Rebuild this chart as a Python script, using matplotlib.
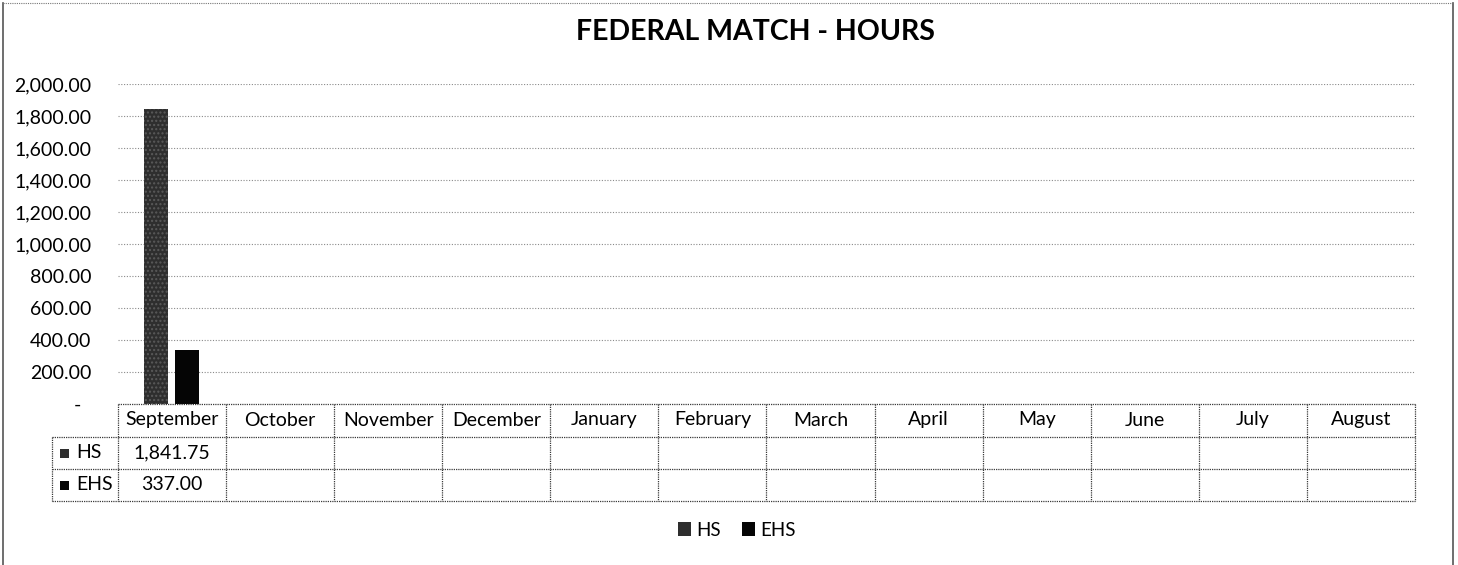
import matplotlib
matplotlib.use("Agg")
import matplotlib.pyplot as plt
from matplotlib.lines import Line2D
from matplotlib.patches import Patch
from matplotlib.transforms import blended_transform_factory
import matplotlib.ticker as mticker

plt.rcParams['font.family'] = ['Lato', 'DejaVu Sans']

# data
title = "FEDERAL MATCH - HOURS"
months = ["September", "October", "November", "December", "January", "February",
          "March", "April", "May", "June", "July", "August"]
series_names = ["HS", "EHS"]
hs_hours = [1841.75, None, None, None, None, None, None, None, None, None, None, None]
ehs_hours = [337.00, None, None, None, None, None, None, None, None, None, None, None]
y_ticks = [0, 200, 400, 600, 800, 1000, 1200, 1400, 1600, 1800, 2000]

colors = {"HS": "#2e2e2e", "EHS": "#050505"}
W, H = 1458, 565

fig = plt.figure(figsize=(W / 100, H / 100), dpi=100)
ax = fig.add_axes([118 / W, 1 - 404 / H, (1415 - 118) / W, (404 - 84) / H])

x = list(range(len(months)))
bw = 0.22
for vals, name, off in [(hs_hours, "HS", -0.15), (ehs_hours, "EHS", 0.14)]:
    xs = [i + off for i, v in zip(x, vals) if v is not None]
    hs = [v for v in vals if v is not None]
    ax.bar(xs, hs, width=bw, color=colors[name], zorder=3,
           hatch='....' if name == "HS" else None, edgecolor='#5a5a5a' if name == "HS" else colors[name],
           linewidth=0)

ax.set_xlim(-0.5, len(months) - 0.5)
ax.set_ylim(0, 2000)
ax.set_yticks(y_ticks)
ax.yaxis.set_major_formatter(mticker.FuncFormatter(lambda v, p: "-  " if v == 0 else f"{v:,.2f}"))
ax.tick_params(axis='y', length=0, pad=19, labelsize=14)
ax.set_xticks([])
for s in ax.spines.values():
    s.set_visible(False)
ax.grid(axis='y', color='#8a8a8a', linestyle=(0, (1, 1.5)), linewidth=0.8, zorder=0)
ax.set_axisbelow(True)

fig.text(755 / W, 1 - 32 / H, title, ha='center', va='center', fontsize=20.5, fontweight='bold')

# data table under the axis
tr = blended_transform_factory(ax.transData, fig.transFigure)
fy = lambda py: 1 - py / H
line_kw = dict(color='#3a3a3a', linewidth=0.9, linestyle=(0, (1, 0.8)))
rows = [404, 437, 469, 501]
n = len(months)
for r in rows:
    fig.add_artist(Line2D([-0.5, n - 0.5], [fy(r), fy(r)], transform=tr, **line_kw))
for i in range(n + 1):
    fig.add_artist(Line2D([i - 0.5, i - 0.5], [fy(404), fy(501)], transform=tr, **line_kw))
# row-label column
for r in rows[1:]:
    fig.add_artist(Line2D([52 / W, 118 / W], [fy(r), fy(r)], transform=fig.transFigure, **line_kw))
fig.add_artist(Line2D([52 / W, 52 / W], [fy(437), fy(501)], transform=fig.transFigure, **line_kw))

for i, m in enumerate(months):
    fig.text(i, fy(420), m, transform=tr, ha='center', va='center', fontsize=14)
for vals, name, ry in [(hs_hours, "HS", 453), (ehs_hours, "EHS", 485)]:
    fig.add_artist(plt.Rectangle((60 / W, fy(ry) - 4.5 / H), 9 / W, 9 / H, transform=fig.transFigure,
                                 facecolor=colors[name], edgecolor='none'))
    fig.text(76 / W, fy(ry), name, ha='left', va='center', fontsize=14)
    for i, v in enumerate(vals):
        if v is not None:
            fig.text(i, fy(ry), f"{v:,.2f}", transform=tr, ha='center', va='center', fontsize=14)

handles = [Patch(facecolor=colors[nm], edgecolor='none') for nm in series_names]
fig.legend(handles, series_names, loc='center', bbox_to_anchor=(737 / W, fy(530)), ncol=2,
           frameon=False, fontsize=13.5, handlelength=0.7, handleheight=0.7, handletextpad=0.3,
           columnspacing=1.1)

# outer chart border
bkw = dict(color='#555555', linewidth=1.2, transform=fig.transFigure)
fig.add_artist(Line2D([3 / W, 3 / W], [0, fy(3)], **bkw))
fig.add_artist(Line2D([1453 / W, 1453 / W], [0, fy(3)], **bkw))
fig.add_artist(Line2D([3 / W, 1453 / W], [fy(3), fy(3)], color='#777777', linewidth=0.8,
                      linestyle=(0, (1, 1)), transform=fig.transFigure))

fig.savefig("out.png", dpi=100)
